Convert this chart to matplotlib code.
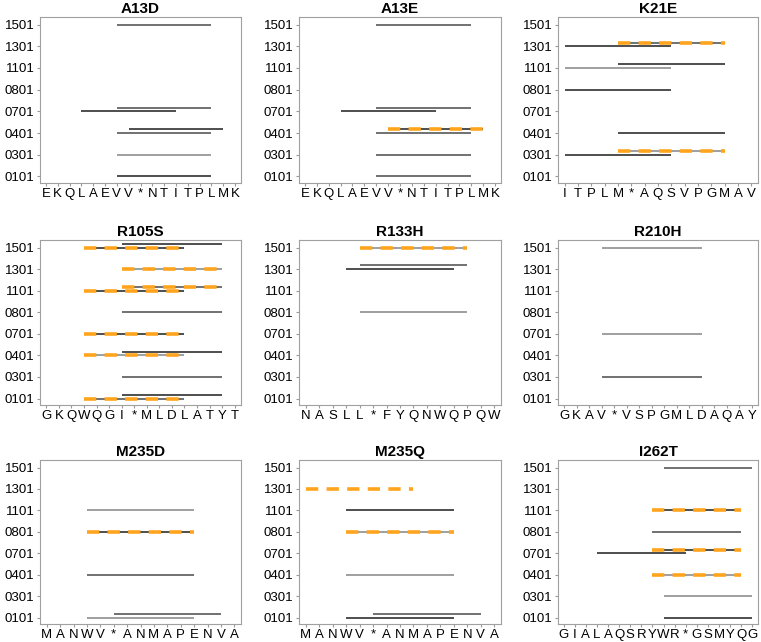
import matplotlib
matplotlib.use('Agg')
import matplotlib.pyplot as plt

plt.rcParams['font.family'] = ['Liberation Sans', 'DejaVu Sans']

# HLA alleles (bottom -> top)
ALLELES = ['0101', '0301', '0401', '0701', '0801', '1101', '1301', '1501']

# 各パネル: 配列、区間 (allele, start, end), 強結合フラグ, 線の濃さ
A13D_seq = list('EKQLAEVV*NTITPLMK')
A13D_allele = ['1501', '0701', '0701', '0401', '0401', '0301', '0101']
A13D_start = [6, 3, 6, 6, 7, 6, 6]
A13D_end = [14, 11, 14, 14, 15, 14, 14]
A13D_strong = [0, 0, 0, 0, 0, 0, 0]
A13D_shade = [1, 0, 1, 1, 0, 2, 0]

A13E_seq = list('EKQLAEVV*NTITPLMK')
A13E_allele = ['1501', '0701', '0701', '0401', '0401', '0301', '0101']
A13E_start = [6, 3, 6, 6, 7, 6, 6]
A13E_end = [14, 11, 14, 14, 15, 14, 14]
A13E_strong = [0, 0, 0, 0, 1, 0, 0]
A13E_shade = [1, 0, 1, 1, 0, 1, 1]

K21E_seq = list('ITPLM*AQSVPGMAV')
K21E_allele = ['1301', '1301', '1101', '1101', '0801', '0401', '0301', '0301']
K21E_start = [0, 4, 0, 4, 0, 4, 0, 4]
K21E_end = [8, 12, 8, 12, 8, 12, 8, 12]
K21E_strong = [0, 1, 0, 0, 0, 0, 0, 1]
K21E_shade = [0, 1, 2, 0, 0, 0, 0, 2]

R105S_seq = list('GKQWQGI*MLDLATYT')
R105S_allele = ['1501', '1501', '1301', '1101', '1101', '0801', '0701',
                '0401', '0401', '0301', '0101', '0101']
R105S_start = [3, 6, 6, 3, 6, 6, 3, 3, 6, 6, 3, 6]
R105S_end = [11, 14, 14, 11, 14, 14, 11, 11, 14, 14, 11, 14]
R105S_strong = [1, 0, 1, 1, 1, 0, 1, 1, 0, 0, 1, 0]
R105S_shade = [0, 0, 2, 0, 1, 1, 0, 2, 0, 1, 1, 0]

R133H_seq = list('NASLL*FYQNWQPQW')
R133H_allele = ['1501', '1301', '1301', '0801']
R133H_start = [4, 3, 4, 4]
R133H_end = [12, 11, 12, 12]
R133H_strong = [1, 0, 0, 0]
R133H_shade = [2, 0, 1, 2]

R210H_seq = list('GKAV*VSPGMLDAQAY')
R210H_allele = ['1501', '0701', '0301']
R210H_start = [3, 3, 3]
R210H_end = [11, 11, 11]
R210H_strong = [0, 0, 0]
R210H_shade = [2, 2, 1]

M235D_seq = list('MANWV*ANMAPENVA')
M235D_allele = ['1101', '0801', '0401', '0101', '0101']
M235D_start = [3, 3, 3, 3, 5]
M235D_end = [11, 11, 11, 11, 13]
M235D_strong = [0, 1, 0, 0, 0]
M235D_shade = [2, 0, 1, 2, 1]

M235Q_seq = list('MANWV*ANMAPENVA')
M235Q_allele = ['1301', '1101', '0801', '0401', '0101', '0101']
M235Q_start = [0, 3, 3, 3, 3, 5]
M235Q_end = [8, 11, 11, 11, 11, 13]
M235Q_strong = [1, 0, 1, 0, 0, 0]
M235Q_shade = [None, 0, 2, 2, 0, 1]

I262T_seq = list('GIALAQSRYWR*GSMYQG')
I262T_allele = ['1501', '1101', '0801', '0701', '0701', '0401', '0301', '0101']
I262T_start = [9, 8, 8, 3, 8, 8, 9, 9]
I262T_end = [17, 16, 16, 11, 16, 16, 17, 17]
I262T_strong = [0, 1, 0, 0, 1, 1, 0, 0]
I262T_shade = [1, 0, 1, 0, 0, 2, 2, 0]

PANELS = [
    ('A13D', A13D_seq, A13D_allele, A13D_start, A13D_end, A13D_strong, A13D_shade),
    ('A13E', A13E_seq, A13E_allele, A13E_start, A13E_end, A13E_strong, A13E_shade),
    ('K21E', K21E_seq, K21E_allele, K21E_start, K21E_end, K21E_strong, K21E_shade),
    ('R105S', R105S_seq, R105S_allele, R105S_start, R105S_end, R105S_strong, R105S_shade),
    ('R133H', R133H_seq, R133H_allele, R133H_start, R133H_end, R133H_strong, R133H_shade),
    ('R210H', R210H_seq, R210H_allele, R210H_start, R210H_end, R210H_strong, R210H_shade),
    ('M235D', M235D_seq, M235D_allele, M235D_start, M235D_end, M235D_strong, M235D_shade),
    ('M235Q', M235Q_seq, M235Q_allele, M235Q_start, M235Q_end, M235Q_strong, M235Q_shade),
    ('I262T', I262T_seq, I262T_allele, I262T_start, I262T_end, I262T_strong, I262T_shade),
]

SHADES = ['#1e1e1e', '#4a4a4a', '#858585']
ORANGE = '#FFA41C'
OFFSET = 0.17

W, H = 761, 642
col_x = [(40, 241), (299, 501), (558, 758)]
row_y = [(17, 183), (240, 405), (460, 624)]

fig = plt.figure(figsize=(W / 100, H / 100), dpi=100)

for i, (title, seq, allele, start, end, strong, shade) in enumerate(PANELS):
    x0, x1 = col_x[i % 3]
    y0, y1 = row_y[i // 3]
    ax = fig.add_axes([x0 / W, 1 - y1 / H, (x1 - x0) / W, (y1 - y0) / H])

    # 同じアレルの区間は開始位置の遅い方を少し上にずらす
    order = sorted(range(len(allele)), key=lambda k: start[k])
    level = {}
    ypos = {}
    for k in order:
        n = level.get(allele[k], 0)
        ypos[k] = ALLELES.index(allele[k]) + n * OFFSET
        level[allele[k]] = n + 1

    for k in range(len(allele)):
        y = ypos[k]
        if shade[k] is not None:
            ax.plot([start[k], end[k]], [y, y], color=SHADES[shade[k]],
                    lw=1.1, solid_capstyle='butt', zorder=2)
        if strong[k]:
            ax.plot([start[k], end[k]], [y, y], color=ORANGE, lw=2.6,
                    linestyle=(0, (3.4, 2.3)), dash_capstyle='butt', zorder=3)

    ax.set_xlim(-0.5, len(seq) - 0.5)
    ax.set_ylim(-0.3, len(ALLELES) - 0.65)
    ax.set_xticks(range(len(seq)))
    ax.set_xticklabels(seq, fontsize=9.5)
    ax.set_yticks(range(len(ALLELES)))
    ax.set_yticklabels(ALLELES, fontsize=9.5)
    ax.tick_params(length=2.5, width=0.8, color='#999999', pad=1.5)
    ax.tick_params(axis='x', pad=1)
    for sp in ax.spines.values():
        sp.set_color('#a0a0a0')
        sp.set_linewidth(0.8)
    ax.set_title(title, fontsize=11, fontweight='bold', pad=3)

fig.savefig('out.png', dpi=100)
